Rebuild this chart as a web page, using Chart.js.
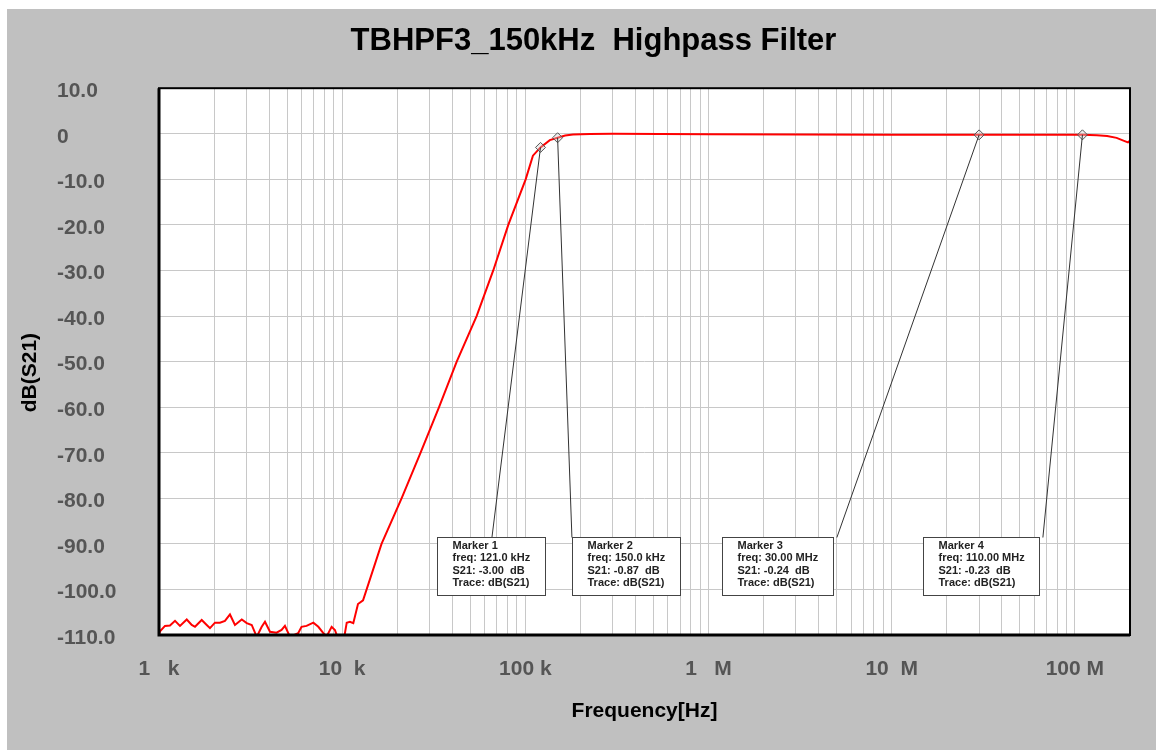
<!DOCTYPE html>
<html>
<head>
<meta charset="utf-8">
<title>TBHPF3_150kHz Highpass Filter</title>
<script src="https://cdn.jsdelivr.net/npm/chart.js@4.4.1/dist/chart.umd.min.js"></script>
<style>
    html, body { margin: 0; padding: 0; background: #ffffff; }
    #wrap {
        position: absolute;
        left: 7px;
        top: 9px;
        width: 1149px;
        height: 741px;
        background: #c0c0c0;
    }
</style>
</head>
<body>
<div id="wrap"><canvas id="filterChart"></canvas></div>
<script>
// S21 trace
const freqHz = [
    1000, 1013, 1078, 1148, 1223, 1302, 1417, 1509, 1572, 1711,
    1822, 1898, 2021, 2152, 2291, 2440, 2598, 2830, 3013, 3208,
    3416, 3637, 3790, 4036, 4384, 4668, 4870, 5190, 5750, 6000,
    6390, 6960, 7410, 7890, 8230, 8760, 9130, 9410, 10270, 10590,
    11020, 11500, 12200, 13000, 16400, 21100, 26800, 33800, 42200, 54200,
    66800, 80700, 100400, 110000, 121000, 136000, 150000, 165000, 182000, 225000,
    300000, 1e6, 1e7, 3e7, 1.1e8, 1.32e8, 1.5e8, 1.69e8, 1.87e8, 1.95e8,
    2e8
];
const s21dB = [
    -109.8, -109.2, -108.0, -107.9, -106.9, -108.0, -106.6, -107.8, -108.2, -106.7,
    -107.8, -108.5, -107.3, -107.3, -106.9, -105.5, -107.8, -106.6, -107.4, -107.8,
    -110.4, -108.2, -107.1, -109.3, -109.5, -108.9, -108.0, -110.4, -109.6, -108.2,
    -108.0, -107.3, -108.2, -109.6, -110.3, -108.2, -108.9, -110.4, -110.4, -107.3,
    -107.1, -107.4, -103.2, -102.4, -90.0, -80.0, -70.0, -60.0, -50.0, -40.0,
    -30.0, -20.0, -10.0, -4.8, -3.0, -1.4, -0.87, -0.4, -0.15, -0.05,
    0, -0.1, -0.2, -0.24, -0.23, -0.3, -0.5, -0.9, -1.6, -1.9,
    -1.5
];

// markers
const markerNames = ['Marker 1', 'Marker 2', 'Marker 3', 'Marker 4'];
const markerFreqHz = [121e3, 150e3, 30e6, 110e6];
const markerDb = [-3.00, -0.87, -0.24, -0.23];
const markerFreqText = ['121.0 kHz', '150.0 kHz', '30.00 MHz', '110.00 MHz'];

// axis ticks
const xDecades = [1e3, 1e4, 1e5, 1e6, 1e7, 1e8];
const xDecadeLabels = ['1   k', '10  k', '100 k', '1   M', '10  M', '100 M'];
const xMin = 1e3, xMax = 2e8;
const yMin = -110, yMax = 10, yStep = 10;

// where each marker's text box sits (in axis units)
const calloutLayout = [
    { left: 32.9e3, top: -88.5, attach: 65.7e3 },
    { left: 179.6e3, top: -88.5, attach: 179.6e3 },
    { left: 1.18e6, top: -88.5, attach: 5.02e6 },
    { left: 14.8e6, top: -88.5, attach: 66.9e6 }
];

const tickFont = { family: 'Arial, "Liberation Sans", sans-serif', size: 21, weight: 'bold' };

const plotFrame = {
    id: 'plotFrame',
    beforeDraw(chart) {
        const a = chart.chartArea;
        const ctx = chart.ctx;
        ctx.save();
        ctx.fillStyle = '#ffffff';
        ctx.fillRect(a.left, a.top, a.right - a.left, a.bottom - a.top);
        ctx.restore();
    },
    afterDraw(chart) {
        const a = chart.chartArea;
        const ctx = chart.ctx;
        ctx.save();
        ctx.strokeStyle = '#000000';
        ctx.lineWidth = 2;
        ctx.strokeRect(a.left, a.top, a.right - a.left, a.bottom - a.top);
        ctx.lineWidth = 3;
        ctx.beginPath();
        ctx.moveTo(a.left, a.top);
        ctx.lineTo(a.left, a.bottom);
        ctx.lineTo(a.right, a.bottom);
        ctx.stroke();

        // y axis title
        const yScale = chart.scales.y;
        ctx.translate(yScale.left - 27, (a.top + a.bottom) / 2 + 11);
        ctx.rotate(-Math.PI / 2);
        ctx.fillStyle = '#000000';
        ctx.font = 'bold 21px Arial, "Liberation Sans", sans-serif';
        ctx.textAlign = 'center';
        ctx.textBaseline = 'middle';
        ctx.fillText('dB(S21)', 0, 0);
        ctx.restore();
    }
};

const markerCallouts = {
    id: 'markerCallouts',
    afterDatasetsDraw(chart) {
        const ctx = chart.ctx;
        const xs = chart.scales.x;
        const ys = chart.scales.y;
        ctx.save();
        ctx.font = 'bold 11px Arial, "Liberation Sans", sans-serif';
        markerNames.forEach((name, i) => {
            const lines = [
                name,
                'freq: ' + markerFreqText[i],
                'S21: ' + markerDb[i].toFixed(2) + '  dB',
                'Trace: dB(S21)'
            ];
            const lay = calloutLayout[i];
            const bx = Math.round(xs.getPixelForValue(lay.left)) + 0.5;
            const by = Math.round(ys.getPixelForValue(lay.top)) + 0.5;
            const bw = Math.round(Math.max(...lines.map(t => ctx.measureText(t).width)) + 30);
            const bh = 58;

            // leader line
            ctx.strokeStyle = '#333333';
            ctx.lineWidth = 1;
            ctx.beginPath();
            ctx.moveTo(xs.getPixelForValue(markerFreqHz[i]), ys.getPixelForValue(markerDb[i]));
            ctx.lineTo(xs.getPixelForValue(lay.attach), by);
            ctx.stroke();

            // box
            ctx.fillStyle = '#ffffff';
            ctx.fillRect(bx, by, bw, bh);
            ctx.strokeStyle = '#444444';
            ctx.strokeRect(bx, by, bw, bh);

            ctx.fillStyle = '#222222';
            ctx.textAlign = 'left';
            ctx.textBaseline = 'middle';
            lines.forEach((t, j) => ctx.fillText(t, bx + 15, by + 8 + j * 12.5));
        });
        ctx.restore();
    }
};

const ctxFilter = document.getElementById('filterChart').getContext('2d');
const filterChart = new Chart(ctxFilter, {
    type: 'line',
    data: {
        datasets: [{
            label: 'dB(S21)',
            data: freqHz.map((f, i) => ({ x: f, y: s21dB[i] })),
            borderColor: '#ff0000',
            borderWidth: 2,
            pointRadius: 0,
            tension: 0,
            order: 2
        }, {
            label: 'Markers',
            data: markerFreqHz.map((f, i) => ({ x: f, y: markerDb[i] })),
            showLine: false,
            pointStyle: 'rectRot',
            pointRadius: 5,
            borderColor: '#555555',
            borderWidth: 1,
            backgroundColor: 'rgba(210,210,210,0.4)',
            order: 1
        }]
    },
    options: {
        responsive: true,
        maintainAspectRatio: false,
        animation: false,
        layout: { padding: { left: 50, right: 26, top: 0, bottom: 0 } },
        plugins: {
            legend: { display: false },
            tooltip: { enabled: false },
            title: {
                display: true,
                text: 'TBHPF3_150kHz  Highpass Filter',
                color: '#000000',
                font: { family: 'Arial, "Liberation Sans", sans-serif', size: 31, weight: 'bold' },
                padding: { top: 14, bottom: 28 }
            }
        },
        scales: {
            x: {
                type: 'logarithmic',
                min: xMin,
                max: xMax,
                afterBuildTicks(scale) {
                    const ticks = [];
                    for (let d = xMin; d < xMax; d *= 10) {
                        for (let m = 1; m <= 9; m++) {
                            const v = d * m;
                            if (v <= xMax) ticks.push({ value: v });
                        }
                    }
                    scale.ticks = ticks;
                },
                afterFit(scale) { scale.height = 115; },
                grid: { color: '#c8c8c8', lineWidth: 1, drawTicks: false },
                border: { display: false },
                ticks: {
                    autoSkip: false,
                    maxRotation: 0,
                    padding: 22,
                    color: '#555555',
                    font: tickFont,
                    callback(value) {
                        const k = xDecades.findIndex(d => Math.abs(d - value) / d < 1e-6);
                        return k >= 0 ? xDecadeLabels[k] : '';
                    }
                },
                title: {
                    display: true,
                    text: 'Frequency[Hz]',
                    color: '#000000',
                    font: { family: 'Arial, "Liberation Sans", sans-serif', size: 21, weight: 'bold' },
                    padding: { top: 0, bottom: 26 }
                }
            },
            y: {
                min: yMin,
                max: yMax,
                afterFit(scale) { scale.width = 102; },
                grid: { color: '#c8c8c8', lineWidth: 1, drawTicks: false },
                border: { display: false },
                ticks: {
                    stepSize: yStep,
                    crossAlign: 'far',
                    padding: 39,
                    labelOffset: 3,
                    color: '#555555',
                    font: tickFont,
                    callback(value) { return value === 0 ? '0' : value.toFixed(1); }
                }
            }
        }
    },
    plugins: [plotFrame, markerCallouts]
});
</script>
</body>
</html>
